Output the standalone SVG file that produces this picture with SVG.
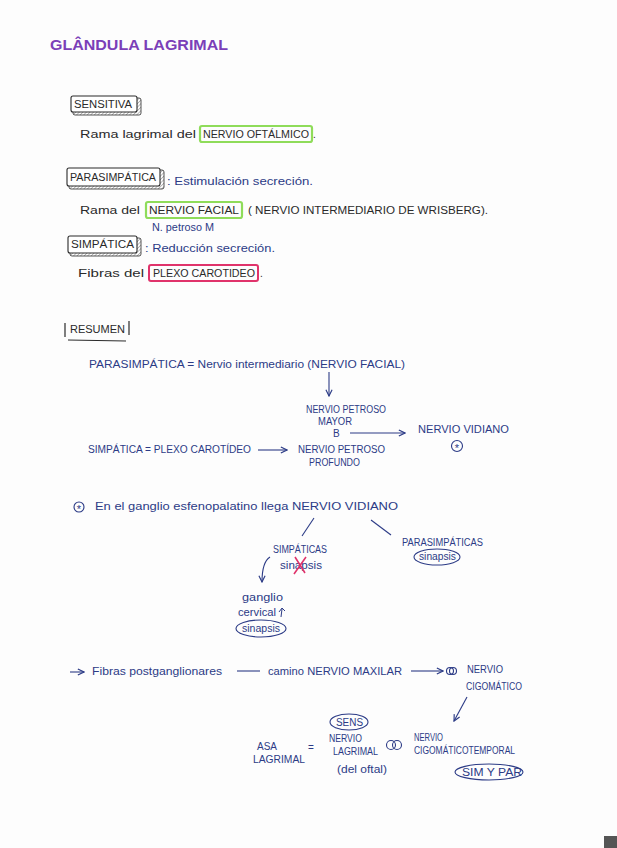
<svg xmlns="http://www.w3.org/2000/svg" width="617" height="848" viewBox="0 0 617 848">
<style>
text{font-family:"Liberation Sans",Arial,sans-serif;font-size:10px}
.k{fill:#2a2a2a}
.b{fill:#2c3b86}
.ttl{fill:#7b3fb8;font-weight:bold;font-size:15px}
.lbl{fill:#fff;stroke:#2a2a2a;stroke-width:1.1}
.sh{fill:url(#hatch);stroke:#2a2a2a;stroke-width:0.8}
.hg{fill:none;stroke:#8fdc5a;stroke-width:2.2}
.hp{fill:none;stroke:#e0336b;stroke-width:2}
.ln{fill:none;stroke:#2c3b86;stroke-width:1.1}
.el{fill:none;stroke:#2c3b86;stroke-width:1.1}
.ast{fill:#2c3b86;font-size:11px;text-anchor:middle}
</style>
<defs>
<marker id="ah" viewBox="0 0 10 10" refX="9" refY="5" markerWidth="7" markerHeight="7" orient="auto-start-reverse">
<path d="M1,1 L9,5 L1,9" fill="none" stroke="#2c3b86" stroke-width="1.5"/>
</marker>
<pattern id="hatch" width="2.5" height="2.5" patternUnits="userSpaceOnUse" patternTransform="rotate(45)">
<rect width="2.5" height="2.5" fill="#fff"/>
<line x1="0" y1="0" x2="0" y2="2.5" stroke="#555" stroke-width="0.8"/>
</pattern>
</defs>
<rect width="617" height="848" fill="#fdfdfd"/>
<rect x="604" y="836" width="13" height="12" fill="#555"/>

<g id="title"><text class="ttl" x="50" y="50" textLength="178" lengthAdjust="spacingAndGlyphs">GLÂNDULA LAGRIMAL</text></g>

<g id="sensitiva">
<rect class="sh" x="73" y="98" width="68" height="17" rx="2"/>
<rect class="lbl" x="71" y="96" width="66" height="16" rx="2"/>
<text class="k" x="74" y="108" textLength="58" lengthAdjust="spacingAndGlyphs">SENSITIVA</text>
<text class="k" x="80" y="138" textLength="116" lengthAdjust="spacingAndGlyphs">Rama lagrimal del</text>
<rect class="hg" x="200" y="126" width="112" height="16" rx="2"/>
<text class="k" x="203" y="138" textLength="106" lengthAdjust="spacingAndGlyphs">NERVIO OFTÁLMICO</text>
<text class="k" x="313" y="138">.</text>
</g>

<g id="parasimpatica">
<rect class="sh" x="69" y="170" width="95" height="19" rx="2"/>
<rect class="lbl" x="67" y="168" width="93" height="18" rx="2"/>
<text class="k" x="70" y="181" textLength="86" lengthAdjust="spacingAndGlyphs">PARASIMPÁTICA</text>
<text class="b" x="167" y="185" textLength="146" lengthAdjust="spacingAndGlyphs">: Estimulación secreción.</text>
<text class="k" x="80" y="214" textLength="60" lengthAdjust="spacingAndGlyphs">Rama del</text>
<rect class="hg" x="146" y="202" width="96" height="16" rx="2"/>
<text class="k" x="149" y="214" textLength="90" lengthAdjust="spacingAndGlyphs">NERVIO FACIAL</text>
<text class="k" x="248" y="214" textLength="240" lengthAdjust="spacingAndGlyphs">( NERVIO INTERMEDIARIO  DE  WRISBERG).</text>
<text class="b" x="152" y="231" font-size="9" textLength="62" lengthAdjust="spacingAndGlyphs">N. petroso M</text>
</g>

<g id="simpatica">
<rect class="sh" x="70" y="238" width="71" height="18" rx="2"/>
<rect class="lbl" x="68" y="236" width="69" height="17" rx="2"/>
<text class="k" x="71" y="248" textLength="63" lengthAdjust="spacingAndGlyphs">SIMPÁTICA</text>
<text class="b" x="145" y="252" textLength="130" lengthAdjust="spacingAndGlyphs">: Reducción secreción.</text>
<text class="k" x="78" y="277" textLength="66" lengthAdjust="spacingAndGlyphs">Fibras del</text>
<rect class="hp" x="149" y="265" width="109" height="16" rx="2"/>
<text class="k" x="153" y="277" textLength="102" lengthAdjust="spacingAndGlyphs">PLEXO CAROTIDEO</text>
<text class="k" x="260" y="277">.</text>
</g>

<g id="resumen">
<line x1="65" y1="323" x2="65" y2="337" stroke="#2a2a2a" stroke-width="1.2"/>
<line x1="129" y1="321" x2="129" y2="335" stroke="#2a2a2a" stroke-width="1.2"/>
<line x1="68" y1="340" x2="126" y2="341" stroke="#2a2a2a" stroke-width="1"/>
<text class="k" x="70" y="333" textLength="55" lengthAdjust="spacingAndGlyphs">RESUMEN</text>
</g>

<g id="parasimpatica-resumen">
<text class="b" x="89" y="368" textLength="316" lengthAdjust="spacingAndGlyphs">PARASIMPÁTICA  =  Nervio intermediario   (NERVIO FACIAL)</text>
</g>

<g id="petroso-mayor">
<text class="b" x="306" y="413" font-size="9" textLength="80" lengthAdjust="spacingAndGlyphs">NERVIO PETROSO</text>
<text class="b" x="318" y="425" font-size="9" textLength="34" lengthAdjust="spacingAndGlyphs">MAYOR</text>
<text class="b" x="333" y="437" font-size="10">B</text>
</g>

<g id="vidiano">
<text class="b" x="418" y="433" font-size="9" textLength="91" lengthAdjust="spacingAndGlyphs">NERVIO   VIDIANO</text>
<circle class="el" cx="457" cy="446" r="5.5"/>
<text class="ast" x="457" y="452">*</text>
</g>

<g id="simpatica-resumen">
<text class="b" x="88" y="453" font-size="9" textLength="163" lengthAdjust="spacingAndGlyphs">SIMPÁTICA =  PLEXO CAROTÍDEO</text>
</g>

<g id="petroso-profundo">
<text class="b" x="298" y="453" font-size="9" textLength="87" lengthAdjust="spacingAndGlyphs">NERVIO PETROSO</text>
<text class="b" x="309" y="466" font-size="9" textLength="51" lengthAdjust="spacingAndGlyphs">PROFUNDO</text>
</g>

<g id="ganglio-esfenopalatino">
<circle class="el" cx="79" cy="507" r="5"/>
<text class="ast" x="79" y="513">*</text>
<text class="b" x="95" y="510" textLength="303" lengthAdjust="spacingAndGlyphs">En el ganglio esfenopalatino  llega  NERVIO VIDIANO</text>
</g>

<g id="simpaticas">
<text class="b" x="273" y="553" font-size="9" textLength="54" lengthAdjust="spacingAndGlyphs">SIMPÁTICAS</text>
<text class="b" x="280" y="569" font-size="9" textLength="42" lengthAdjust="spacingAndGlyphs">sinapsis</text>
<path d="M295,557 L305,573 M306,557 L294,574" stroke="#e0336b" stroke-width="1.6" fill="none"/>
</g>

<g id="parasimpaticas">
<text class="b" x="402" y="546" font-size="9" textLength="81" lengthAdjust="spacingAndGlyphs">PARASIMPÁTICAS</text>
<ellipse class="el" cx="437" cy="557" rx="23" ry="8"/>
<text class="b" x="419" y="560" font-size="9" textLength="37" lengthAdjust="spacingAndGlyphs">sinapsis</text>
</g>

<g id="ganglio-cervical">
<text class="b" x="242" y="601" textLength="41" lengthAdjust="spacingAndGlyphs">ganglio</text>
<text class="b" x="238" y="616" textLength="38" lengthAdjust="spacingAndGlyphs">cervical</text>
<path d="M281,617 L282,609 M279,612 L282,608 L285,611" stroke="#2c3b86" stroke-width="1" fill="none"/>
<ellipse class="el" cx="261" cy="628.5" rx="25" ry="8.5"/>
<text class="b" x="242" y="632" font-size="9" textLength="38" lengthAdjust="spacingAndGlyphs">sinapsis</text>
</g>

<g id="fibras-postganglionares">
<text class="b" x="92" y="675" textLength="130" lengthAdjust="spacingAndGlyphs">Fibras postganglionares</text>
</g>

<g id="nervio-maxilar">
<text class="b" x="268" y="675" textLength="134" lengthAdjust="spacingAndGlyphs">camino NERVIO MAXILAR</text>
</g>

<g id="cigomatico">
<circle class="el" cx="450" cy="671" r="3.5"/>
<circle class="el" cx="453" cy="671" r="3.5"/>
<text class="b" x="467" y="673" font-size="9" textLength="36" lengthAdjust="spacingAndGlyphs">NERVIO</text>
<text class="b" x="466" y="690" font-size="9" textLength="56" lengthAdjust="spacingAndGlyphs">CIGOMÁTICO</text>
</g>

<g id="asa-lagrimal">
<text class="b" x="257" y="750" font-size="9" textLength="20" lengthAdjust="spacingAndGlyphs">ASA</text>
<text class="b" x="253" y="763" font-size="9" textLength="52" lengthAdjust="spacingAndGlyphs">LAGRIMAL</text>
<text class="b" x="308" y="751" font-size="10">=</text>
</g>

<g id="nervio-lagrimal">
<ellipse class="el" cx="349" cy="722" rx="19" ry="8"/>
<text class="b" x="336" y="726" font-size="9" textLength="27" lengthAdjust="spacingAndGlyphs">SENS</text>
<text class="b" x="329" y="742" font-size="9" textLength="33" lengthAdjust="spacingAndGlyphs">NERVIO</text>
<text class="b" x="333" y="755" font-size="9" textLength="45" lengthAdjust="spacingAndGlyphs">LAGRIMAL</text>
<text class="b" x="337" y="773" font-size="9" textLength="50" lengthAdjust="spacingAndGlyphs">(del oftal)</text>
</g>

<g id="anastomosis">
<circle class="el" cx="391" cy="745" r="4.5"/>
<circle class="el" cx="397" cy="745" r="4.5"/>
</g>

<g id="cigomaticotemporal">
<text class="b" x="414" y="741" font-size="9" textLength="29" lengthAdjust="spacingAndGlyphs">NERVIO</text>
<text class="b" x="414" y="754" font-size="9" textLength="101" lengthAdjust="spacingAndGlyphs">CIGOMÁTICOTEMPORAL</text>
<ellipse class="el" cx="489" cy="772" rx="34" ry="8"/>
<text class="b" x="462" y="776" font-size="9" textLength="60" lengthAdjust="spacingAndGlyphs">SIM  Y PAR</text>
</g>

<g id="connectors">
<line class="ln" x1="329" y1="372" x2="329" y2="396" marker-end="url(#ah)"/>
<line class="ln" x1="350" y1="433" x2="405" y2="433" marker-end="url(#ah)"/>
<line class="ln" x1="258" y1="450" x2="287" y2="450" marker-end="url(#ah)"/>
<line class="ln" x1="314" y1="518" x2="302" y2="536"/>
<line class="ln" x1="371" y1="520" x2="391" y2="535"/>
<path class="ln" d="M270,557 Q262,562 262,582" marker-end="url(#ah)"/>
<line class="ln" x1="70" y1="672" x2="84" y2="672" marker-end="url(#ah)"/>
<line class="ln" x1="237" y1="671" x2="260" y2="671"/>
<line class="ln" x1="411" y1="671" x2="443" y2="671" marker-end="url(#ah)"/>
<line class="ln" x1="467" y1="697" x2="454" y2="721" marker-end="url(#ah)"/>
</g>
</svg>
